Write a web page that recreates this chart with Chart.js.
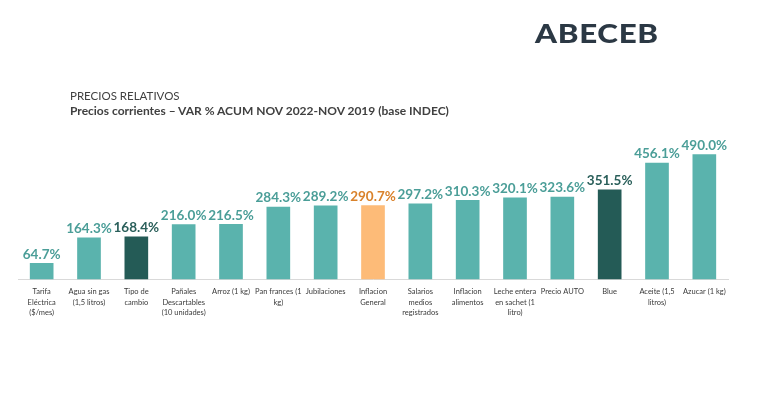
<!DOCTYPE html>
<html>
<head>
<meta charset="utf-8">
<script src="https://cdn.jsdelivr.net/npm/chart.js@4"></script>
<style>
  html, body { margin: 0; padding: 0; background: #fff; }
  #wrap { position: relative; width: 759px; height: 393px; overflow: hidden; }
  #logo { position: absolute; left: 535px; top: 16px; font-family: Lato, sans-serif; font-weight: 900; font-size: 27px; color: #2b3844; letter-spacing: 0.6px; transform: scaleX(1.16); transform-origin: left top; }
  #t1 { position: absolute; left: 70px; top: 89px; font-family: Lato, sans-serif; font-size: 11.5px; color: #404040; }
  #t2 { position: absolute; left: 70px; top: 103px; font-family: Lato, sans-serif; font-weight: 700; font-size: 12px; color: #404040; }
  canvas { position: absolute; left: 0; top: 0; }
</style>
</head>
<body>
<div id="wrap">
  <canvas id="chart" width="759" height="393"></canvas>
  <div id="logo">ABECEB</div>
  <div id="t1">PRECIOS RELATIVOS</div>
  <div id="t2">Precios corrientes – VAR % ACUM NOV 2022-NOV 2019 (base INDEC)</div>
</div>
<script>
// categorias (eje x)
const categorias = [
  ['Tarifa', 'Eléctrica', '($/mes)'],
  ['Agua sin gas', '(1,5 litros)'],
  ['Tipo de', 'cambio'],
  ['Pañales', 'Descartables', '(10 unidades)'],
  ['Arroz (1 kg)'],
  ['Pan frances (1', 'kg)'],
  ['Jubilaciones'],
  ['Inflacion', 'General'],
  ['Salarios', 'medios', 'registrados'],
  ['Inflacion', 'alimentos'],
  ['Leche entera', 'en sachet (1', 'litro)'],
  ['Precio AUTO'],
  ['Blue'],
  ['Aceite (1,5', 'litros)'],
  ['Azucar (1 kg)']
];

// variacion % acumulada nov 2019 - nov 2022
const variacion = [64.7, 164.3, 168.4, 216.0, 216.5, 284.3, 289.2, 290.7, 297.2, 310.3, 320.1, 323.6, 351.5, 456.1, 490.0];

// tipo de barra: 0 = normal, 1 = destacada (oscura), 2 = inflacion general
const tipoBarra = [0, 0, 1, 0, 0, 0, 0, 2, 0, 0, 0, 0, 1, 0, 0];

const coloresBarra = ['#5ab3ad', '#245b56', '#fdbb78'];
const coloresTexto = ['#4b9e98', '#2a5f5a', '#d9822b'];

// etiquetas de valor arriba de cada barra
const etiquetasPlugin = {
  id: 'etiquetas',
  afterDatasetsDraw(chart) {
    const ctx = chart.ctx;
    const meta = chart.getDatasetMeta(0);
    ctx.save();
    ctx.font = 'bold 13.5px Lato, sans-serif';
    ctx.textAlign = 'center';
    ctx.textBaseline = 'bottom';
    meta.data.forEach((bar, i) => {
      ctx.fillStyle = coloresTexto[tipoBarra[i]];
      ctx.fillText(variacion[i].toFixed(1) + '%', bar.x, bar.y - 2);
    });
    ctx.restore();
  }
};

new Chart(document.getElementById('chart'), {
  type: 'bar',
  data: {
    labels: categorias,
    datasets: [{
      data: variacion,
      backgroundColor: tipoBarra.map(t => coloresBarra[t]),
      categoryPercentage: 1,
      barPercentage: 0.5
    }]
  },
  options: {
    responsive: false,
    animation: false,
    layout: { padding: { left: 18, right: 31, top: 126, bottom: 68 } },
    plugins: { legend: { display: false }, tooltip: { enabled: false } },
    scales: {
      y: { display: false, min: 0, max: 600 },
      x: {
        grid: { display: false, drawTicks: false },
        border: { display: true, color: '#d9d9d9', width: 1 },
        ticks: {
          autoSkip: false,
          maxRotation: 0,
          padding: 7,
          color: '#3a3a3a',
          font: { family: 'Lato, sans-serif', size: 7.5, lineHeight: 1.4 }
        }
      }
    }
  },
  plugins: [etiquetasPlugin]
});
</script>
</body>
</html>
